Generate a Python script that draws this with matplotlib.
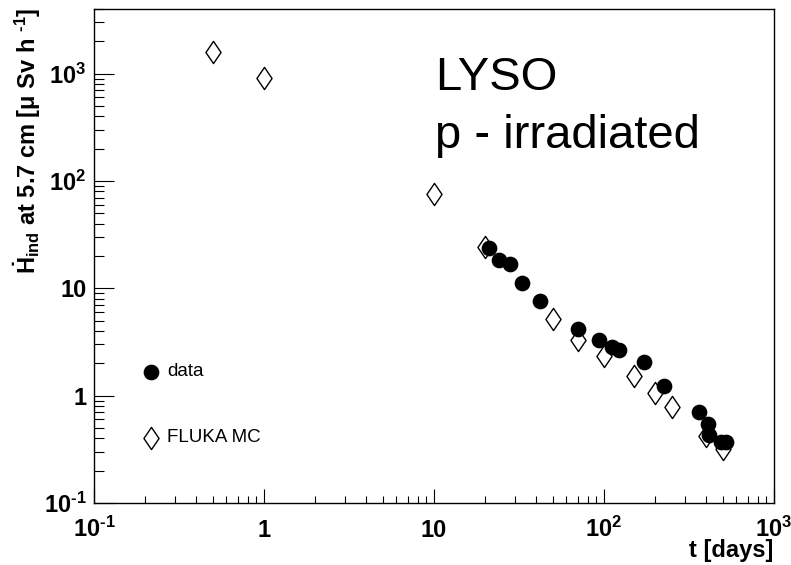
import matplotlib
matplotlib.use("Agg")
import matplotlib.pyplot as plt
from matplotlib.ticker import LogLocator, FixedLocator, NullFormatter
from matplotlib.path import Path

plt.rcParams['font.family'] = ['Liberation Sans', 'DejaVu Sans']
plt.rcParams['mathtext.fontset'] = 'custom'
plt.rcParams['mathtext.rm'] = 'Liberation Sans'
plt.rcParams['mathtext.bf'] = 'Liberation Sans:bold'
plt.rcParams['mathtext.it'] = 'Liberation Sans:italic'
plt.rcParams['mathtext.sf'] = 'Liberation Sans'

# ---- data ----
data_t = [21, 24, 28, 33, 42, 70, 94, 111, 123, 171, 224, 361, 408, 412, 490, 520]
data_h = [24, 18.5, 16.7, 11.1, 7.6, 4.2, 3.3, 2.87, 2.64, 2.08, 1.24, 0.71, 0.55, 0.43, 0.37, 0.37]

mc_t = [0.5, 1, 10, 20, 50, 70, 100, 150, 200, 250, 400, 500]
mc_h = [1600, 920, 76, 24.5, 5.2, 3.3, 2.35, 1.53, 1.07, 0.79, 0.42, 0.32]

HY = '\u2010'
xticks = [0.1, 1, 10, 100, 1000]
xtick_labels = [r'$\mathbf{10^{' + HY + r'1}}$', '1', '10', r'$\mathbf{10^{2}}$', r'$\mathbf{10^{3}}$']
yticks = [0.1, 1, 10, 100, 1000]
ytick_labels = [r'$\mathbf{10^{' + HY + r'1}}$', '1', '10', r'$\mathbf{10^{2}}$', r'$\mathbf{10^{3}}$']

FS = 17

fig = plt.figure(figsize=(7.91, 5.65), dpi=100)
ax = fig.add_axes([94/791, 1 - 503/565, (774 - 94)/791, (503 - 9)/565])
ax.set_xscale('log')
ax.set_yscale('log')
ax.set_xlim(0.1, 1000)
ax.set_ylim(0.1, 4000)

diamond = Path([(-0.34, 0), (0, 0.5), (0.34, 0), (0, -0.5), (-0.34, 0)],
               [Path.MOVETO, Path.LINETO, Path.LINETO, Path.LINETO, Path.CLOSEPOLY])

ax.plot(mc_t, mc_h, linestyle='none', marker=diamond, markersize=16,
        markerfacecolor='white', markeredgecolor='black', markeredgewidth=1.0, zorder=2)
ax.plot(data_t, data_h, linestyle='none', marker='o', markersize=10.3,
        markerfacecolor='black', markeredgecolor='black', zorder=3)

# ticks
ax.xaxis.set_major_locator(FixedLocator(xticks))
ax.yaxis.set_major_locator(FixedLocator(yticks))
ax.xaxis.set_minor_locator(LogLocator(base=10, subs=range(2, 10), numticks=20))
ax.yaxis.set_minor_locator(LogLocator(base=10, subs=range(2, 10), numticks=20))
ax.xaxis.set_minor_formatter(NullFormatter())
ax.yaxis.set_minor_formatter(NullFormatter())
ax.set_xticklabels(xtick_labels, fontsize=FS, fontweight='bold')
ax.set_yticklabels(ytick_labels, fontsize=FS, fontweight='bold')
for lab in ax.get_xticklabels():
    lab.set_verticalalignment('baseline')
for lab in ax.get_yticklabels():
    lab.set_verticalalignment('center_baseline')

ax.tick_params(axis='x', which='major', direction='in', length=10, width=0.8, pad=24.5)
ax.tick_params(axis='x', which='minor', direction='in', length=5, width=0.8)
ax.tick_params(axis='y', which='major', direction='in', length=14.5, width=0.8, pad=5.5)
ax.tick_params(axis='y', which='minor', direction='in', length=7.2, width=0.8)
for s in ax.spines.values():
    s.set_linewidth(1.0)

# axis titles (ROOT style: aligned to the end of the axis)
fig.text(773/791, 1 - 557/565, 't [days]', fontsize=FS, fontweight='bold',
         ha='right', va='baseline')
fig.text(12/791, 1 - 8/565,
         r'$\mathbf{\dot{H}_{ind}}$ at 5.7 cm [$\mathbf{\mu}$ Sv h $\mathbf{^{' + HY + r'1}}$]',
         fontsize=FS, fontweight='bold', rotation=90, ha='left', va='top')

# annotation text
ax.text(435/791, 1 - 90/565, 'LYSO', transform=fig.transFigure, fontsize=34,
        ha='left', va='baseline')
ax.text(435/791, 1 - 148/565, 'p - irradiated', transform=fig.transFigure, fontsize=34,
        ha='left', va='baseline')

# legend (manual, ROOT-like)
ax.plot([0.215], [1.666], linestyle='none', marker='o', markersize=10.3,
        markerfacecolor='black', markeredgecolor='black')
ax.text(0.269, 1.666, 'data', fontsize=13.5, ha='left', va='center')
ax.plot([0.215], [0.404], linestyle='none', marker=diamond, markersize=16,
        markerfacecolor='white', markeredgecolor='black', markeredgewidth=1.0)
ax.text(0.269, 0.404, 'FLUKA MC', fontsize=13.5, ha='left', va='center')

fig.savefig('out.png', dpi=100)
